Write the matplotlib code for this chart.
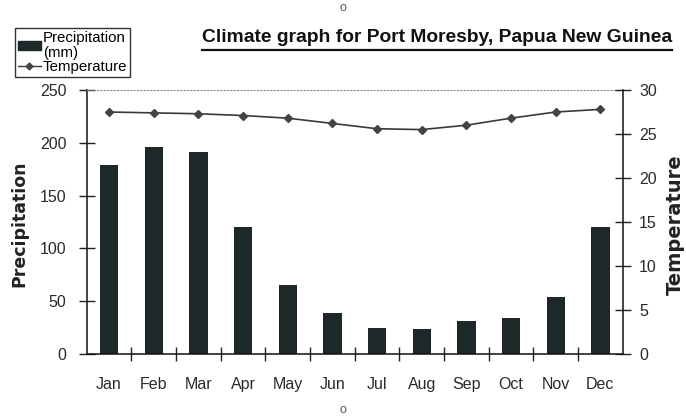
import matplotlib
matplotlib.use('Agg')
import numpy as np
import matplotlib.pyplot as plt
from matplotlib.patches import Patch
from matplotlib.lines import Line2D

months = ['Jan', 'Feb', 'Mar', 'Apr', 'May', 'Jun', 'Jul', 'Aug', 'Sep', 'Oct', 'Nov', 'Dec']
precip_mm = [179, 196, 191, 120, 65, 39, 25, 24, 31, 34, 54, 120]
temp_c = [27.5, 27.4, 27.3, 27.1, 26.8, 26.2, 25.6, 25.5, 26.0, 26.8, 27.5, 27.8]
precip_ticks = [0, 50, 100, 150, 200, 250]
temp_ticks = [0, 5, 10, 15, 20, 25, 30]

plt.rcParams['font.family'] = ['Liberation Sans', 'DejaVu Sans']

bar_color = '#1e2828'
line_color = '#3a3a3a'
tick_col = '#2a2a2a'

fig = plt.figure(figsize=(6.86, 4.16), dpi=100)
ax = fig.add_axes([86.7 / 686, 1 - 354 / 416, 536 / 686, 264 / 416])

x = np.arange(len(months))
ax.bar(x, precip_mm, width=0.41, color=bar_color, zorder=2)
ax.set_xlim(-0.5, 11.5)
ax.set_ylim(0, 250)
ax.set_yticks(precip_ticks)

# ticks between the months, labels centred under the bars
ax.set_xticks(x[:-1] + 0.5)
ax.set_xticklabels([])
ax.set_xticks(x, minor=True)
ax.set_xticklabels(months, minor=True)
ax.tick_params(axis='x', which='major', direction='inout', length=10, width=1, color='#222')
ax.tick_params(axis='x', which='minor', length=0, pad=16.5, labelsize=11.5, labelcolor=tick_col)
ax.tick_params(axis='y', direction='inout', length=12, width=1, color='#222',
               pad=8.6, labelsize=11.5, labelcolor=tick_col)

ax.spines['right'].set_visible(False)
ax.spines['top'].set_linestyle((0, (1, 2)))
ax.spines['top'].set_color('#888')
ax.spines['top'].set_linewidth(0.8)
for s in ['left', 'bottom']:
    ax.spines[s].set_color('#111')
    ax.spines[s].set_linewidth(1.1)

ax2 = ax.twinx()
ax2.plot(x, temp_c, color=line_color, lw=1.2, marker='D', markersize=4,
         markerfacecolor='#444', markeredgecolor='#444')
ax2.set_ylim(0, 30)
ax2.set_yticks(temp_ticks)
ax2.tick_params(axis='y', direction='inout', length=12, width=1, color='#222',
                pad=5.8, labelsize=11.5, labelcolor=tick_col)
for s in ['left', 'bottom', 'top']:
    ax2.spines[s].set_visible(False)
ax2.spines['right'].set_color('#111')
ax2.spines['right'].set_linewidth(1.1)

fig.text(19 / 686, 1 - 224 / 416, 'Precipitation', rotation=90, ha='center', va='center',
         fontsize=12.5, fontweight='bold', family='DejaVu Sans', color='#222')
fig.text(675 / 686, 1 - 225 / 416, 'Temperature', rotation=90, ha='center', va='center',
         fontsize=14, fontweight='bold', family='DejaVu Sans', color='#222')

title = fig.text(201.7 / 686, 1 - 41.5 / 416, 'Climate graph for Port Moresby, Papua New Guinea',
                 ha='left', va='baseline', fontsize=13.9, fontweight='bold', color='#111')

handles = [Patch(facecolor=bar_color, edgecolor=bar_color),
           Line2D([], [], color=line_color, lw=1, marker='D', markersize=3.5,
                  markerfacecolor='#444', markeredgecolor='#444')]
leg = fig.legend(handles, ['Precipitation\n(mm)', 'Temperature'], loc='upper left',
                 bbox_to_anchor=(15 / 686, 1 - 28 / 416), fontsize=10.8, frameon=True,
                 fancybox=False, edgecolor='black', borderpad=0.2, labelspacing=0.0,
                 handlelength=1.5, handleheight=0.55, handletextpad=0.15, borderaxespad=0)
leg.get_frame().set_linewidth(1.0)
for t in leg.get_texts():
    t.set_linespacing(1.1)

# little punch-hole circles
fig.text(343 / 686, 1 - 8 / 416, 'o', ha='center', va='center', fontsize=9, color='#555')
fig.text(343 / 686, 1 - 410 / 416, 'o', ha='center', va='center', fontsize=9, color='#555')

# underline the title
fig.canvas.draw()
bb = title.get_window_extent()
y_ul = (bb.y0 - 4) / fig.bbox.height
fig.add_artist(Line2D([bb.x0 / fig.bbox.width, bb.x1 / fig.bbox.width], [y_ul, y_ul],
                      transform=fig.transFigure, color='#111', lw=1.6))

fig.savefig('out.png', dpi=100)
